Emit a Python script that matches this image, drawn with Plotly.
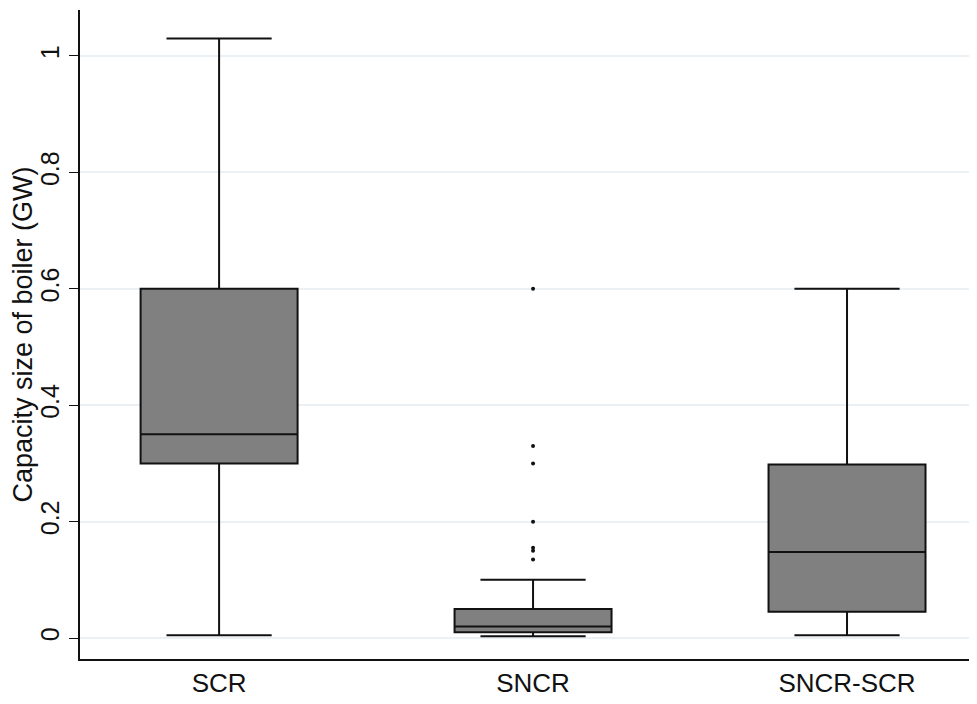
import plotly.graph_objects as go

categories = ["SCR", "SNCR", "SNCR-SCR"]
lower_whisker = [0.005, 0.003, 0.005]
q1_values = [0.30, 0.01, 0.045]
median_values = [0.35, 0.02, 0.148]
q3_values = [0.60, 0.05, 0.298]
upper_whisker = [1.03, 0.10, 0.60]

outlier_category = ["SNCR"] * 7
outlier_values = [0.60, 0.33, 0.30, 0.20, 0.155, 0.15, 0.135]

y_ticks = [0, 0.2, 0.4, 0.6, 0.8, 1]
y_tick_text = ["0", "0.2", "0.4", "0.6", "0.8", "1"]

FONT = "Liberation Sans, Arial, Helvetica, sans-serif"

fig = go.Figure()
fig.add_trace(go.Box(
    x=categories,
    q1=q1_values,
    median=median_values,
    q3=q3_values,
    lowerfence=lower_whisker,
    upperfence=upper_whisker,
    fillcolor="#808080",
    line=dict(color="#111111", width=2),
    width=0.5,
    whiskerwidth=0.67,
    boxpoints=False,
    showlegend=False,
    hoverinfo="skip",
))
fig.add_trace(go.Scatter(
    x=outlier_category,
    y=outlier_values,
    mode="markers",
    marker=dict(color="#111111", size=4),
    showlegend=False,
))

fig.update_layout(
    width=969,
    height=696,
    margin=dict(l=72, r=0, t=2, b=45, autoexpand=False),
    paper_bgcolor="white",
    plot_bgcolor="white",
    font=dict(family=FONT, size=26, color="#111111"),
)
fig.update_xaxes(
    type="category",
    categoryorder="array",
    categoryarray=categories,
    range=[-0.443, 2.414],
    showgrid=False,
    zeroline=False,
    showline=True,
    linecolor="#111111",
    linewidth=1.5,
    ticks="",
    automargin=False,
    tickfont=dict(size=26),
)
fig.update_yaxes(
    range=[-0.036, 1.079],
    tickvals=y_ticks,
    ticktext=y_tick_text,
    tickangle=-90,
    ticks="outside",
    ticklen=9,
    tickwidth=1.2,
    tickcolor="#111111",
    showline=True,
    linecolor="#111111",
    linewidth=1.5,
    showgrid=True,
    gridcolor="#eaf0f3",
    gridwidth=1.5,
    zeroline=False,
    automargin=False,
    tickfont=dict(size=25),
    title=dict(text="Capacity size of boiler (GW)", font=dict(size=27), standoff=9),
)

fig.write_html("out.html")
